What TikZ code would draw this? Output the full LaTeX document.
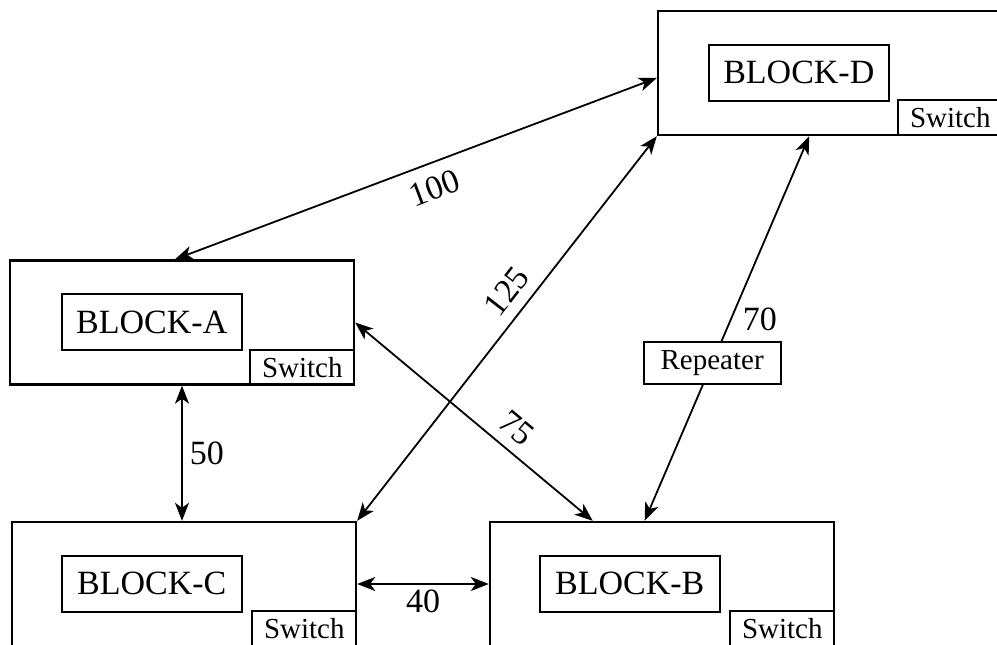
\documentclass[tikz,border=0pt]{standalone}
\usepackage{fontspec}
\setmainfont{Liberation Serif}
\usetikzlibrary{calc, arrows.meta}

\begin{document}
\begin{tikzpicture}[x=1pt, y=-1pt,
    blockbox/.style={draw, line width=2.4pt, minimum width=344pt, minimum height=124pt, inner sep=0pt},
    namebox/.style={draw, line width=2pt, anchor=north west, minimum width=180pt, minimum height=56pt, inner sep=0pt, font=\fontsize{34}{38}\selectfont},
    switchbox/.style={draw, line width=1.8pt, anchor=south east, minimum width=104pt, minimum height=35pt, inner sep=0pt, font=\fontsize{29}{32}\selectfont},
    repbox/.style={draw, fill=white, line width=1.8pt, minimum width=137pt, minimum height=42pt, inner sep=0pt, font=\fontsize{29}{32}\selectfont},
    link/.style={{Stealth[length=18pt,width=14pt,inset=5pt]}-{Stealth[length=18pt,width=14pt,inset=5pt]}, line width=1.8pt},
    dist/.style={font=\fontsize{34}{38}\selectfont, inner sep=3pt}]

    % picture frame
    \useasboundingbox (0,0) rectangle (997,645);
    \clip (0,0) rectangle (997,645);

    % the four blocks
    \node[blockbox] (D) at (830,73) {};
    \node[blockbox] (A) at (182,322.5) {};
    \node[blockbox] (C) at (184,584) {};
    \node[blockbox] (B) at (662,584) {};

    % names and switches inside the blocks
    \node[namebox] (nameD) at ($(D.north west)+(51,34)$) {BLOCK-D};
    \node[namebox] (nameA) at ($(A.north west)+(52,34)$) {BLOCK-A};
    \node[namebox] (nameC) at ($(C.north west)+(50,34)$) {BLOCK-C};
    \node[namebox] (nameB) at ($(B.north west)+(50,34)$) {BLOCK-B};
    \node[switchbox] (swD) at (D.south east) {Switch};
    \node[switchbox] (swA) at (A.south east) {Switch};
    \node[switchbox] (swC) at (C.south east) {Switch};
    \node[switchbox] (swB) at (B.south east) {Switch};

    % links with distances
    \draw[link] ($(A.north)+(-7,0)$) -- node[dist, sloped, below=9pt, pos=0.52] {100} ($(D.west)+(0,5)$);
    \draw[link] (C.north east) -- node[dist, sloped, above=8pt, pos=0.56] {125} (D.south west);
    \draw[link] (A.east) -- node[dist, sloped, above=7pt, pos=0.62] {75} ($(B.north west)!0.3!(B.north east)$);
    \draw[link] ($(D.south west)!0.44!(D.south east)$) -- node[dist, pos=0.475, right=8pt] {70}
        node[repbox, pos=0.59] (rep) {Repeater} ($(B.north west)!0.45!(B.north east)$);
    \draw[link] (A.south) -- node[dist, right=4pt] {50} (A.south |- C.north);
    \draw[link] (C.east) -- node[dist, below=2pt] {40} (C.east -| B.west);
\end{tikzpicture}
\end{document}
